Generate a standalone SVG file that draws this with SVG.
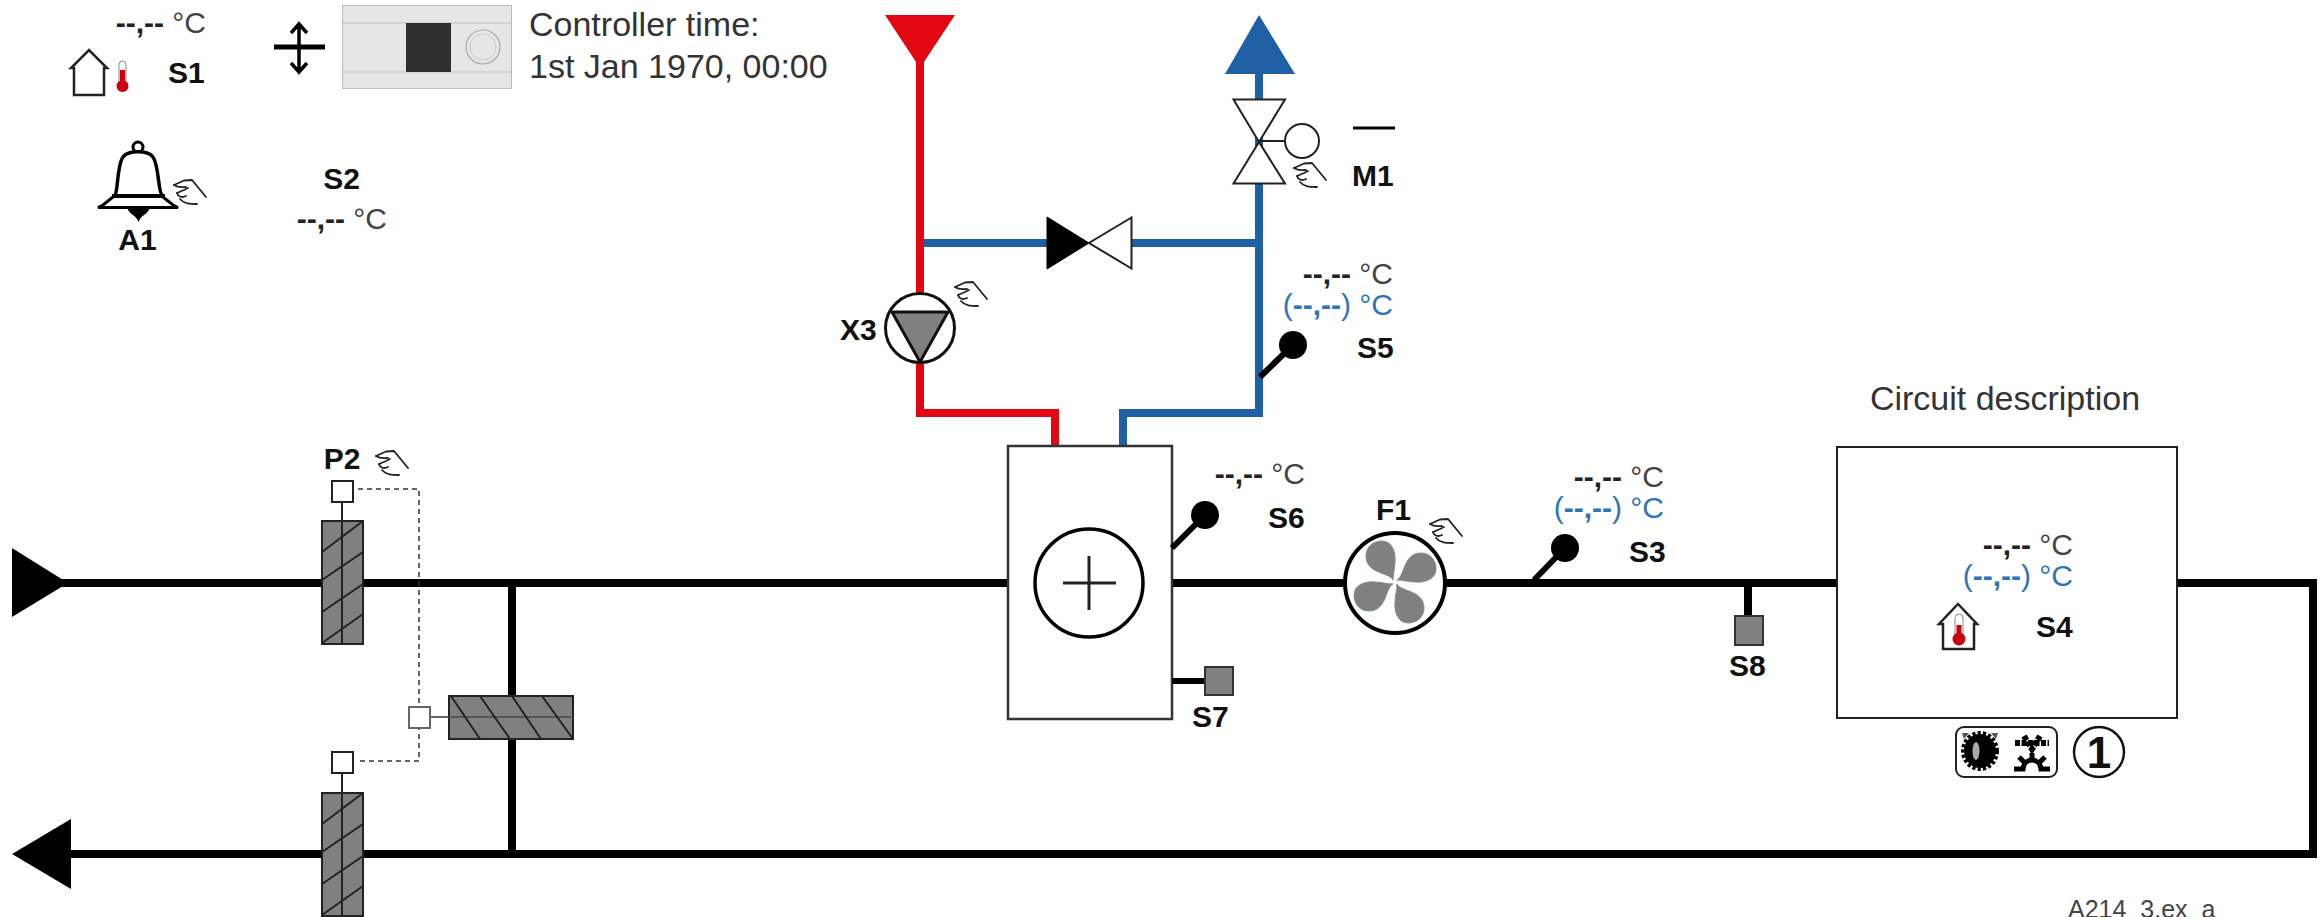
<svg xmlns="http://www.w3.org/2000/svg" width="2323" height="917" viewBox="0 0 2323 917">
<style>
text{font-family:"Liberation Sans",Arial,sans-serif}
.l{font-size:30px;font-weight:bold;fill:#111}
.v{font-size:30px;fill:#444;text-anchor:end}
.v tspan{font-weight:bold;fill:#222}
.b{font-size:30px;fill:#2e75b6;text-anchor:end}
.b tspan{font-weight:bold}
.t{font-size:34px;fill:#333}
.duct{fill:none;stroke:#000;stroke-width:8}
.red{fill:none;stroke:#e30613;stroke-width:8}
.blue{fill:none;stroke:#1f60a5;stroke-width:8}
.thin{fill:#fff;stroke:#222;stroke-width:2}
.dmp{fill:#808080;stroke:#222;stroke-width:2}
.h{fill:none;stroke:#222;stroke-width:2}
.sq{fill:#808080;stroke:#333;stroke-width:2}
.stem{fill:none;stroke:#000;stroke-width:6}
.ball{fill:#000}
.hand{fill:none;stroke:#222;stroke-width:1.800;stroke-linecap:round;stroke-linejoin:round}
</style>
<defs>
<g id="hand" class="hand">
<path d="M2,6 L12,1.500 L20,1 L34,18"/>
<path d="M2,6 C6,9 10,8 14,8"/>
<path d="M5,14 L12,11 L16,9"/>
<path d="M5,14 C6,18 10,19 14,17"/>
<path d="M8,20 C12,25 18,25 25,25"/>
</g>
<g id="blade"><path d="M-2,-2 C-6,-10 -29,-8 -29,-26 C-29,-36 -21,-41 -13,-41 C-3,-41 1,-30 0,-20 C0,-14 -2,-8 -2,-2Z" fill="#808080" stroke="#7a9a80" stroke-width="1"/></g>
<g id="vdamper">
<rect class="dmp" x="322" y="0" width="41" height="123"/>
<path class="h" d="M342,0V123M322,31L363,0M322,59L363,31M322,91L363,63M322,122L363,93"/>
</g>
</defs>

<g id="connectors">
<path class="duct" d="M60,583H322M363,583H1008M1172,583H1344M1446,583H1837"/>
<path class="duct" d="M2177,583H2313V854H66"/>
<path class="duct" d="M512,583V697M512,738V854"/>
<path class="duct" d="M1748,583V617"/>
<path class="red" d="M920,60V293M920,363V413H1055V447"/>
<path class="blue" d="M1123,447V413H1259V74M924,243H1047M1132,243H1259"/>
<path d="M358,489H419V761H358" fill="none" stroke="#333" stroke-width="1.500" stroke-dasharray="5 4"/>
<path d="M342,502V521M342,773V793" stroke="#222" stroke-width="2"/>
<path d="M430,717H449" stroke="#666" stroke-width="2"/>
</g>

<g id="S1">
<text class="v" x="206" y="33"><tspan>--,--</tspan> °C</text>
<path d="M74,95V68H71L89,50L107,68H104V95Z" fill="#fff" stroke="#222" stroke-width="2.500"/>
<rect x="119" y="61" width="7" height="24" rx="3.500" fill="#fff" stroke="#888" stroke-width="1"/>
<rect x="120" y="70" width="5" height="16" fill="#c8000f"/>
<circle cx="122.500" cy="86" r="6" fill="#c8000f"/>
<text class="l" x="168" y="83">S1</text>
</g>

<g id="controller">
<path d="M299,25V71M291,33L299,24L307,33M291,63L299,72L307,63" fill="none" stroke="#000" stroke-width="3.500"/>
<path d="M274,47H325" stroke="#000" stroke-width="5"/>
<rect x="342.500" y="5.500" width="169" height="83" fill="#e6e6e6" stroke="#bbb"/>
<path d="M343,23H511M343,72H511" stroke="#ccc" stroke-width="1.500"/>
<rect x="406" y="23" width="45" height="49" fill="#2f2f2f"/>
<circle cx="483" cy="47" r="17" fill="none" stroke="#aaa" stroke-width="1.200"/>
<circle cx="483" cy="47" r="13" fill="none" stroke="#ccc" stroke-width="1"/>
<text class="t" x="529" y="36">Controller time:</text>
<text class="t" x="529" y="78">1st Jan 1970, 00:00</text>
</g>

<g id="A1">
<circle cx="138" cy="147" r="5" fill="none" stroke="#000" stroke-width="3"/>
<path d="M115,195 C118,192 117,165 123,157 C128,150 148,150 153,157 C159,165 158,192 162,195" fill="#fff" stroke="#000" stroke-width="3.500"/>
<path d="M112,196H165" stroke="#000" stroke-width="4"/>
<path d="M113,197 L103,205 L98,207.500 H178 L173,205 L163,197" fill="none" stroke="#000" stroke-width="3"/>
<path d="M127,208 C130,215 136,215 138.500,222 C141,215 147,215 150,208Z" fill="#000"/>
<use href="#hand" x="172" y="179"/>
<text class="l" x="137.500" y="250" text-anchor="middle">A1</text>
</g>

<g id="S2">
<text class="l" x="341.500" y="189" text-anchor="middle">S2</text>
<text class="v" x="387" y="229"><tspan>--,--</tspan> °C</text>
</g>

<g id="supply"><path d="M885,15H955L920,68Z" fill="#e30613"/></g>
<g id="return"><path d="M1259,15L1295,74H1225Z" fill="#1f60a5"/></g>

<g id="X3">
<circle cx="920" cy="328" r="34.500" fill="#fff" stroke="#111" stroke-width="3"/>
<path d="M892,312H948L920,362Z" fill="#808080" stroke="#111" stroke-width="3"/>
<text class="l" x="840" y="340">X3</text>
<use href="#hand" x="953" y="281"/>
</g>

<g id="M1">
<path class="thin" d="M1233.500,99.500H1285L1259,142L1285,183.500H1233.500L1259,142Z"/>
<path d="M1259,141H1285" stroke="#222" stroke-width="2"/>
<circle class="thin" cx="1302" cy="141" r="17"/>
<path d="M1353,128H1395" stroke="#000" stroke-width="3"/>
<text class="l" x="1352" y="186">M1</text>
<use href="#hand" x="1292" y="162"/>
</g>

<g id="checkvalve">
<path d="M1047,217L1089,243L1047,269Z" fill="#000" stroke="#000"/>
<path class="thin" d="M1131.500,217.500L1089,243L1131.500,268.500Z"/>
</g>

<g id="S5">
<text class="v" x="1393" y="284"><tspan>--,--</tspan> °C</text>
<text class="b" x="1393" y="315">(<tspan>--,--</tspan>) °C</text>
<path class="stem" d="M1260,377L1293,345"/>
<circle class="ball" cx="1293" cy="345" r="14"/>
<text class="l" x="1357" y="358">S5</text>
</g>

<g id="heater">
<rect x="1008" y="446" width="164" height="273" fill="#fff" stroke="#333" stroke-width="2.500"/>
<circle cx="1089" cy="583" r="54" fill="#fff" stroke="#000" stroke-width="3.500"/>
<path d="M1063,583H1116M1089,556V610" stroke="#222" stroke-width="3"/>
</g>

<g id="S6">
<text class="v" x="1305" y="484"><tspan>--,--</tspan> °C</text>
<path class="stem" d="M1172,548L1205,515"/>
<circle class="ball" cx="1205" cy="515" r="14"/>
<text class="l" x="1268" y="528">S6</text>
</g>

<g id="S7">
<path d="M1172,681H1206" stroke="#000" stroke-width="6"/>
<rect class="sq" x="1205" y="667" width="28" height="28"/>
<text class="l" x="1192" y="727">S7</text>
</g>

<g id="F1">
<circle cx="1395" cy="583" r="50" fill="#fff" stroke="#000" stroke-width="4"/>
<g transform="translate(1395 582)">
<use href="#blade"/>
<use href="#blade" transform="rotate(90)"/>
<use href="#blade" transform="rotate(180)"/>
<use href="#blade" transform="rotate(270)"/>
</g>
<text class="l" x="1376" y="520">F1</text>
<use href="#hand" x="1428" y="518"/>
</g>

<g id="S3">
<text class="v" x="1664" y="487"><tspan>--,--</tspan> °C</text>
<text class="b" x="1664" y="518">(<tspan>--,--</tspan>) °C</text>
<path class="stem" d="M1534,580L1565,548"/>
<circle class="ball" cx="1565" cy="548" r="14"/>
<text class="l" x="1629" y="562">S3</text>
</g>

<g id="S8">
<rect class="sq" x="1735" y="616" width="28" height="29"/>
<text class="l" x="1729" y="676">S8</text>
</g>

<g id="room">
<text class="t" x="2005" y="410" text-anchor="middle">Circuit description</text>
<rect x="1837" y="447" width="340" height="271" fill="#fff" stroke="#222" stroke-width="2"/>
<text class="v" x="2073" y="555"><tspan>--,--</tspan> °C</text>
<text class="b" x="2073" y="586">(<tspan>--,--</tspan>) °C</text>
<path d="M1943,649V624H1939L1958,604L1977,624H1974V649Z" fill="#fff" stroke="#222" stroke-width="2.500"/>
<rect x="1955" y="614" width="8" height="24" rx="4" fill="#fff" stroke="#888"/>
<rect x="1956.500" y="625" width="5" height="14" fill="#c8000f"/>
<circle cx="1959" cy="639" r="6.500" fill="#c8000f"/>
<text class="l" x="2036" y="637">S4</text>
</g>

<g id="modes">
<rect x="1956" y="727" width="101" height="50" rx="8" fill="#fff" stroke="#222" stroke-width="2"/>
<ellipse cx="1980" cy="751" rx="16" ry="17" fill="#000" stroke="#000" stroke-width="6" stroke-dasharray="3 2"/>
<ellipse cx="1976" cy="751" rx="3.500" ry="9" fill="#aaa"/>
<path d="M1962,733H1969L1964,739ZM1998,733H1991L1996,739Z" fill="#555"/>
<path d="M2015,743H2049M2024,736L2032,749L2040,736" fill="none" stroke="#000" stroke-width="6" stroke-dasharray="5 1.500"/>
<path d="M2014,769H2023C2024,757 2040,757 2041,769H2050M2032,753V758M2019,757L2024,762M2045,757L2040,762" fill="none" stroke="#000" stroke-width="5"/>
<circle cx="2099" cy="752" r="25" fill="#fff" stroke="#111" stroke-width="2.500"/>
<text x="2099" y="768" text-anchor="middle" font-size="44" font-weight="bold" fill="#111">1</text>
</g>

<g id="P2">
<text class="l" x="342" y="469" text-anchor="middle">P2</text>
<use href="#hand" x="374" y="450"/>
<rect class="thin" x="332" y="481" width="21" height="21"/>
<use href="#vdamper" y="521"/>
</g>
<g id="P2b">
<rect class="thin" x="332" y="752" width="21" height="21"/>
<use href="#vdamper" y="793"/>
</g>
<g id="P2c">
<rect x="409" y="707" width="21" height="21" fill="#fff" stroke="#666" stroke-width="2"/>
<rect class="dmp" x="449" y="696" width="124" height="43" stroke="#444"/>
<path d="M449,717H573" stroke="#555" stroke-width="2"/>
<path class="h" d="M451,696L480,739M480,696L510,739M512,696L541,739M542,696L573,739"/>
</g>

<g id="inlet"><path d="M12,548L68,583L12,617Z" fill="#000"/></g>
<g id="outlet"><path d="M12,854L71,819V889Z" fill="#000"/></g>

<text id="ref" x="2068" y="918" font-size="25" fill="#444">A214_3.ex_a</text>
</svg>
